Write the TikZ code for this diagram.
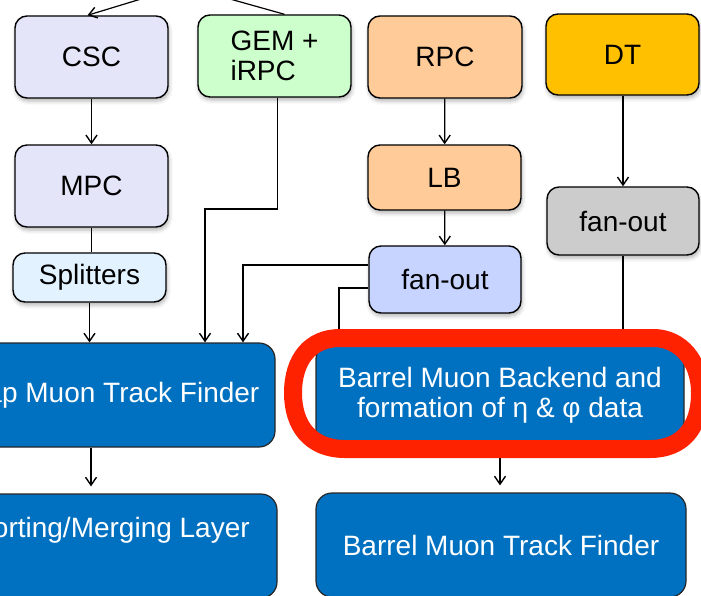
\documentclass[tikz,border=0pt]{standalone}
\usepackage{fontspec}
\setmainfont{Liberation Sans}
\usetikzlibrary{arrows.meta,shadows.blur,calc}

\definecolor{lavender}{RGB}{229,229,250}
\definecolor{splitblue}{RGB}{226,242,255}
\definecolor{gemgreen}{RGB}{204,255,204}
\definecolor{peach}{RGB}{255,204,153}
\definecolor{dtgold}{RGB}{255,192,0}
\definecolor{fanblue}{RGB}{198,212,255}
\definecolor{fangray}{RGB}{204,204,204}
\definecolor{trigblue}{RGB}{0,112,192}
\definecolor{markred}{RGB}{255,34,0}

\tikzset{
  smallbox/.style={draw=black, line width=1.4pt, rounded corners=12pt,
    inner sep=0pt, minimum width=153pt, minimum height=82pt,
    font=\fontsize{28}{30}\selectfont, align=center,
    blur shadow={shadow xshift=1pt, shadow yshift=-3pt,
      shadow blur radius=4pt, shadow opacity=30}},
  bigbox/.style={draw=black!85, line width=1.2pt, rounded corners=16pt,
    fill=trigblue, inner sep=0pt, minimum width=368pt, minimum height=104pt,
    text=white, font=\fontsize{28}{30}\selectfont, align=center},
  link/.style={draw=black, line width=1.2pt},
  arr/.style={link, -{Straight Barb[length=8pt,width=11pt,line width=1.4pt]}},
}

\begin{document}
\begin{tikzpicture}[x=1pt,y=-1pt]
\useasboundingbox (0,0) rectangle (701,595);
\clip (0,0) rectangle (701,595);

% detector and front-end boxes
\node[smallbox, fill=lavender] (csc) at (91.5,57) {CSC};
\node[smallbox, fill=gemgreen, align=left] (gem) at (274.5,56) {GEM +\\iRPC};
\node[smallbox, fill=peach, minimum width=154pt] (rpc) at (445,57) {RPC};
\node[smallbox, fill=dtgold, minimum height=81pt] (dt) at (622.5,54.5) {DT};
\node[smallbox, fill=lavender] (mpc) at (91.5,186) {MPC};
\node[smallbox, fill=splitblue, minimum height=49pt] (spl) at (89.5,277.5) {Splitters};
\node[smallbox, fill=peach, minimum height=65pt] (lb) at (444.5,177.5) {LB};
\node[smallbox, fill=fanblue, minimum width=152pt, minimum height=67pt] (fanb) at (445,279.5) {fan-out};
\node[smallbox, fill=fangray, minimum width=152pt, minimum height=68pt] (fang) at (623,221) {fan-out};

% trigger processing boxes
\node[bigbox] (emtf) at (91,395) {Endcap Muon Track Finder};
\node[bigbox] (bbe) at (500,395) {Barrel Muon Backend and\\formation of η \& φ data};
\node[bigbox, minimum width=370pt] (sort) at (92,546) {};
\node[text=white, font=\fontsize{28}{30}\selectfont] (sorttxt) at (112,530) {Sorting/Merging Layer};
\node[bigbox, minimum width=370pt] (bmtf) at (501,545) {Barrel Muon Track Finder};

% inputs arriving from above
\coordinate (inA) at (141,-1);
\coordinate (inB) at (230,-1);
\draw[arr] (inA) -- ([xshift=-4pt]csc.north);
\draw[link] (inB) -- ([xshift=10pt]gem.north);

% endcap chain
\draw[arr] (csc) -- (mpc);
\draw[link] (mpc.south) -- (mpc.south |- spl.north);
\draw[arr] (spl.south) -- (spl.south |- emtf.north);
\coordinate (gemturn) at (205,209);
\draw[arr] ([xshift=3pt]gem.south) |- (gemturn) -- (gemturn |- emtf.north);
\coordinate (fx1) at (243,0);
\draw[arr] ([yshift=14.5pt]fanb.west) -| (fx1 |- emtf.north);
\draw[arr] (emtf.south) -- ([yshift=7pt]emtf.south |- sort.north);

% barrel chain
\draw[arr] (rpc) -- (lb);
\draw[arr] (lb) -- (fanb);
\coordinate (fx2) at (339,0);
\draw[arr] ([yshift=-8.5pt]fanb.west) -| (fx2 |- bbe.north);
\draw[arr] ([xshift=0.5pt]dt.south) -- (fang.north);
\draw[arr] (fang.south) -- (fang.south |- bbe.north);
\draw[arr] (bbe.south) -- ([yshift=7pt]bbe.south |- bmtf.north);

% hand-drawn highlight around the barrel backend
\draw[markred, line width=18pt, line join=round]
  (340,338) -- (655,338)
  .. controls (680,339) and (700,360) .. (700,393)
  .. controls (700,428) and (682,449) .. (650,449)
  -- (345,449)
  .. controls (310,449) and (293,425) .. (293,393)
  .. controls (293,360) and (310,338) .. (340,338) -- cycle;
\end{tikzpicture}
\end{document}
